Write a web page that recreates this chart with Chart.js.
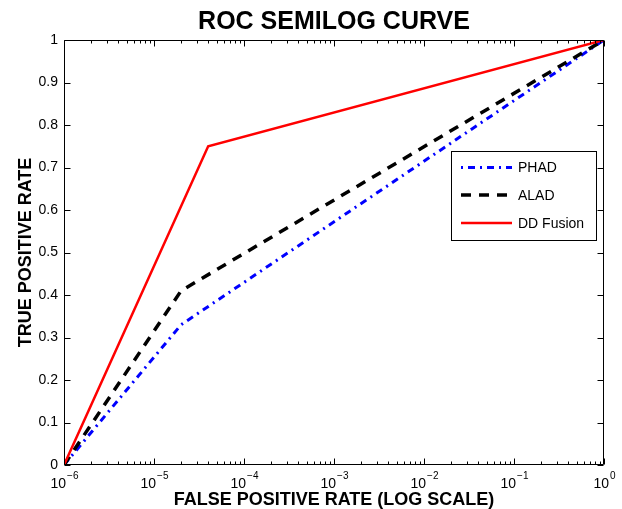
<!DOCTYPE html>
<html lang="en">
  <head>
    <meta charset="UTF-8" />
    <title>ROC Semilog Curve</title>
    <script src="https://cdn.jsdelivr.net/npm/chart.js"></script>
    <style>
      body { margin: 0; background: #fff; }
      canvas { display: block; }
    </style>
  </head>
  <body>
    <canvas id="rocChart" width="622" height="509"></canvas>

    <script>
      // ROC points (false positive rate / true positive rate)
      const fprPhad = [1e-6, 2e-5, 1];
      const tprPhad = [0, 0.33, 1];
      const fprAlad = [1e-6, 2e-5, 1];
      const tprAlad = [0, 0.41, 1];
      const fprFusion = [1e-6, 4e-5, 1];
      const tprFusion = [0, 0.75, 1];
      const seriesLabels = ["PHAD", "ALAD", "DD Fusion"];

      // axis ticks
      const xTickValues = [1e-6, 1e-5, 1e-4, 1e-3, 1e-2, 1e-1, 1];
      const xTickExponents = ["\u22126", "\u22125", "\u22124", "\u22123", "\u22122", "\u22121", "0"];
      const yTickValues = [0, 0.1, 0.2, 0.3, 0.4, 0.5, 0.6, 0.7, 0.8, 0.9, 1];
      const yTickLabels = ["0", "0.1", "0.2", "0.3", "0.4", "0.5", "0.6", "0.7", "0.8", "0.9", "1"];

      const FONT = "'Liberation Sans', Arial, Helvetica, sans-serif";
      Chart.defaults.font.family = FONT;
      Chart.defaults.color = "#000";

      function toPoints(xs, ys) {
        return xs.map((x, i) => ({ x: x, y: ys[i] }));
      }

      // MATLAB-like box, inward ticks, power-of-ten labels and boxed legend
      const matlabAxes = {
        id: "matlabAxes",
        afterDatasetsDraw(chart) {
          const { ctx, chartArea: a, scales } = chart;
          const x = scales.x;
          const y = scales.y;
          ctx.save();
          ctx.strokeStyle = "#000";
          ctx.lineWidth = 1;
          ctx.setLineDash([]);

          const L = a.left + 0.5, R = a.right - 0.5, T = a.top + 0.5, B = a.bottom - 0.5;
          ctx.beginPath();
          ctx.rect(L, T, R - L, B - T);

          // log ticks, major and minor
          xTickValues.forEach((v, i) => {
            const px = Math.round(x.getPixelForValue(v)) + 0.5;
            ctx.moveTo(px, B); ctx.lineTo(px, B - 6);
            ctx.moveTo(px, T); ctx.lineTo(px, T + 6);
            if (i < xTickValues.length - 1) {
              for (let m = 2; m <= 9; m++) {
                const mx = Math.round(x.getPixelForValue(v * m)) + 0.5;
                ctx.moveTo(mx, B); ctx.lineTo(mx, B - 3);
                ctx.moveTo(mx, T); ctx.lineTo(mx, T + 3);
              }
            }
          });
          yTickValues.forEach((v) => {
            const py = Math.round(y.getPixelForValue(v)) + 0.5;
            ctx.moveTo(L, py); ctx.lineTo(L + 6, py);
            ctx.moveTo(R, py); ctx.lineTo(R - 6, py);
          });
          ctx.stroke();

          // x tick labels: 10 with superscript exponent
          ctx.fillStyle = "#000";
          ctx.textBaseline = "alphabetic";
          ctx.textAlign = "left";
          xTickValues.forEach((v, i) => {
            const px = x.getPixelForValue(v);
            ctx.font = "14px " + FONT;
            const wBase = ctx.measureText("10").width;
            ctx.font = "10px " + FONT;
            const wExp = ctx.measureText(xTickExponents[i]).width;
            const start = px - (wBase + wExp) / 2;
            ctx.font = "14px " + FONT;
            ctx.fillText("10", start, a.bottom + 23);
            ctx.font = "10px " + FONT;
            ctx.fillText(xTickExponents[i], start + wBase + 1, a.bottom + 14);
          });

          // legend
          const box = { left: 451.5, top: 151.5, width: 145, height: 89 };
          ctx.fillStyle = "#fff";
          ctx.fillRect(box.left, box.top, box.width, box.height);
          ctx.strokeStyle = "#000";
          ctx.lineWidth = 1;
          ctx.strokeRect(box.left, box.top, box.width, box.height);
          const rowY = [167.5, 195, 223];
          chart.data.datasets.forEach((ds, i) => {
            ctx.save();
            ctx.strokeStyle = ds.borderColor;
            ctx.lineWidth = ds.borderWidth;
            ctx.setLineDash(ds.borderDash || []);
            ctx.lineDashOffset = ds.legendDashOffset || 0;
            ctx.beginPath();
            ctx.moveTo(461, rowY[i]);
            ctx.lineTo(512, rowY[i]);
            ctx.stroke();
            ctx.restore();
            ctx.fillStyle = "#000";
            ctx.font = "14px " + FONT;
            ctx.textBaseline = "middle";
            ctx.fillText(ds.label, 518, rowY[i] + 1);
          });
          ctx.restore();
        },
      };

      new Chart(document.getElementById("rocChart"), {
        type: "line",
        data: {
          datasets: [
            {
              label: seriesLabels[0],
              data: toPoints(fprPhad, tprPhad),
              borderColor: "#0000ff",
              borderWidth: 3,
              borderDash: [7, 5, 2, 5],
              legendDashOffset: 12,
              order: 3,
            },
            {
              label: seriesLabels[1],
              data: toPoints(fprAlad, tprAlad),
              borderColor: "#000000",
              borderWidth: 3.5,
              borderDash: [10, 8],
              order: 2,
            },
            {
              label: seriesLabels[2],
              data: toPoints(fprFusion, tprFusion),
              borderColor: "#ff0000",
              borderWidth: 2.5,
              order: 1,
            },
          ],
        },
        options: {
          responsive: false,
          animation: false,
          elements: {
            point: { radius: 0, hoverRadius: 0 },
            line: { tension: 0, fill: false },
          },
          layout: { padding: { left: 0, right: 18, top: 0, bottom: 0 } },
          plugins: {
            legend: { display: false },
            tooltip: { enabled: false },
            title: {
              display: true,
              fullSize: false,
              text: "ROC SEMILOG CURVE",
              color: "#000",
              font: { size: 25, weight: "bold", lineHeight: 1.2 },
              padding: { top: 7, bottom: 3 },
            },
          },
          scales: {
            x: {
              type: "logarithmic",
              min: 1e-6,
              max: 1,
              grid: { display: false },
              border: { display: false },
              ticks: { display: false },
              title: {
                display: true,
                text: "FALSE POSITIVE RATE (LOG SCALE)",
                color: "#000",
                font: { size: 18, weight: "bold", lineHeight: 1 },
                padding: { top: 0, bottom: 0 },
              },
              afterFit(scale) {
                scale.height = 44;
              },
            },
            y: {
              min: 0,
              max: 1,
              grid: { display: false, drawTicks: false },
              border: { display: false },
              afterBuildTicks(scale) {
                scale.ticks = yTickValues.map((v) => ({ value: v }));
              },
              ticks: {
                color: "#000",
                font: { size: 14 },
                padding: 6,
                callback: (v, i) => yTickLabels[i],
              },
              title: {
                display: true,
                text: "TRUE POSITIVE RATE",
                color: "#000",
                font: { size: 18, weight: "bold" },
                padding: { top: 15, bottom: 0 },
              },
              afterFit(scale) {
                scale.width = 64;
              },
            },
          },
        },
        plugins: [matlabAxes],
      });
    </script>
  </body>
</html>
